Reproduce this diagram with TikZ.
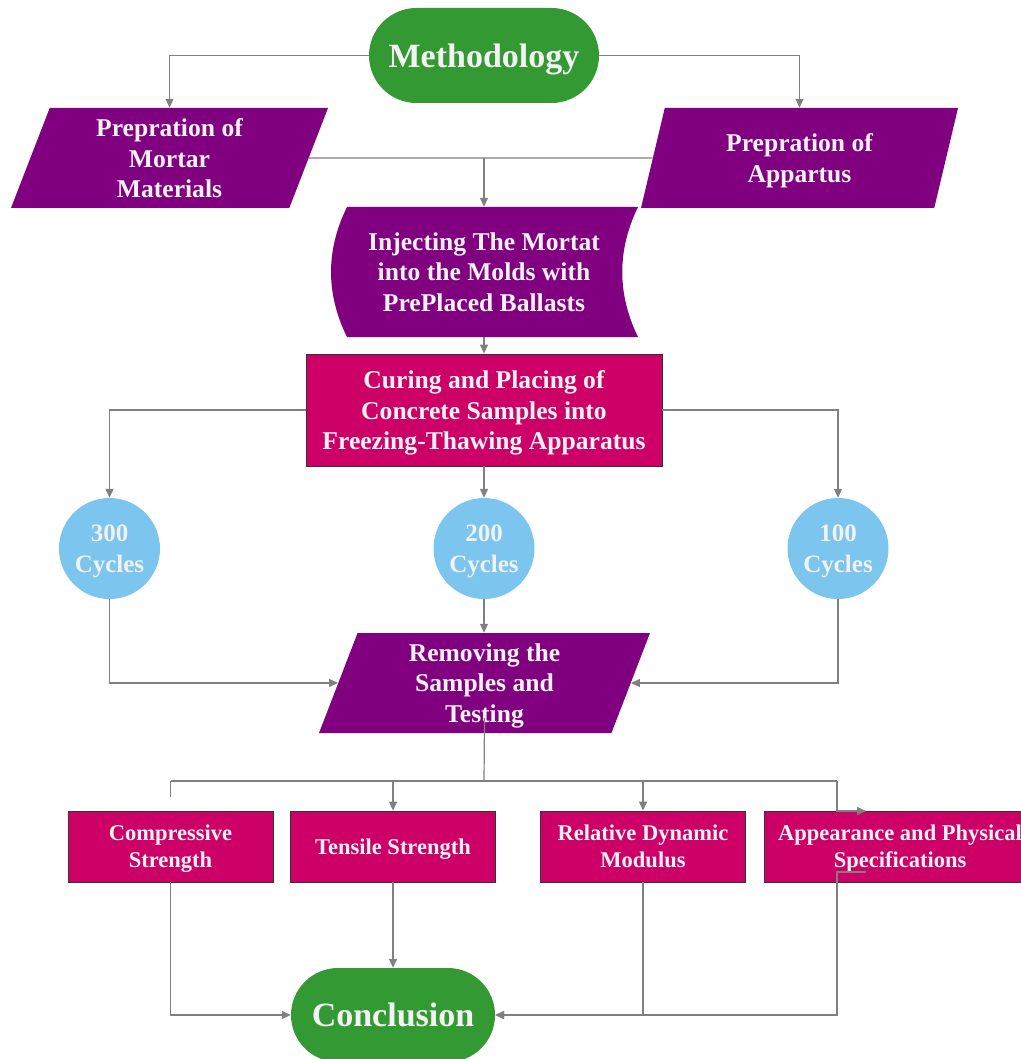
\documentclass[tikz,border=0pt]{standalone}
\usepackage{fontspec}
\setmainfont{Liberation Serif}
\usetikzlibrary{shapes.geometric, shapes.misc, arrows.meta, positioning}

\definecolor{termgreen}{HTML}{339933}
\definecolor{iopurple}{HTML}{800080}
\definecolor{procpink}{HTML}{CC0066}
\definecolor{cycleblue}{HTML}{7CC5EF}
\definecolor{linegray}{HTML}{808080}
\definecolor{labelwhite}{HTML}{F2F2F2}

\tikzset{
  blockbase/.style={text=labelwhite, align=center, inner sep=0pt, text depth=0pt,
    font=\bfseries\fontsize{25.6}{30.5}\selectfont},
  terminal/.style={blockbase, rounded rectangle, fill=termgreen,
    minimum width=230, minimum height=95, font=\bfseries\fontsize{34}{40}\selectfont},
  inout/.style={blockbase, trapezium, trapezium left angle=63.9, trapezium right angle=116.1,
    trapezium stretches body, minimum width=317, minimum height=100, fill=iopurple},
  process/.style={blockbase, rectangle, fill=procpink, draw=black!80, line width=0.8pt,
    minimum width=356, minimum height=112},
  testbox/.style={process, minimum width=205, minimum height=71,
    font=\bfseries\fontsize{22.5}{27}\selectfont},
  cyclenode/.style={blockbase, circle, fill=cycleblue, minimum size=101,
    font=\bfseries\fontsize{25}{31}\selectfont},
  link/.style={draw=linegray, line width=1.2pt},
  flow/.style={link, -{Triangle[length=9pt,width=8pt]}}
}

\begin{document}
\begin{tikzpicture}[x=1pt, y=-1pt]
  \useasboundingbox (0,0) rectangle (1020,1059);

  % start and preparation
  \node[terminal] (method) at (484,55.5) {Methodology};
  \node[inout] (mortar) at (169.5,158) {Prepration of\\Mortar\\Materials};
  \node[inout] (appar) at (799.5,158) {Prepration of\\Appartus};

  % stored data shape for the injection step
  \fill[iopurple] (347,207) -- (638,207) .. controls (617,250) and (617,294) .. (638,337)
    -- (347,337) .. controls (325.7,294) and (325.7,250) .. (347,207);
  \node[blockbase, minimum width=291, minimum height=130] (inject) at (484,272)
    {Injecting The Mortat\\into the Molds with\\PrePlaced Ballasts};

  \node[process] (cure) at (484,410) {Curing and Placing of\\Concrete Samples into\\Freezing-Thawing Apparatus};

  % cycles
  \node[cyclenode] (c300) at (109.5,548.5) {300\\Cycles};
  \node[cyclenode] (c200) at (484,548.5) {200\\Cycles};
  \node[cyclenode] (c100) at (838,548.5) {100\\Cycles};

  \node[inout, minimum width=331] (remove) at (484.5,683) {Removing the\\Samples and\\Testing};

  % tests
  \node[testbox] (comp) at (170.5,846.5) {Compressive\\Strength};
  \node[testbox] (tens) at (393,846.5) {Tensile Strength};
  \node[testbox] (rdm) at (643,846.5) {Relative Dynamic\\Modulus};
  \node[testbox, minimum width=272] (appear) at (900,846.5) {Appearance and Physical\\Specifications};

  \node[terminal, minimum width=204, minimum height=94] (concl) at (393,1015) {Conclusion};

  % connectors at the top
  \draw[flow] (method.west) -| (mortar.north);
  \draw[flow] (method.east) -| (appar.north);
  \draw[link] (mortar.east) -- (appar.west);
  \draw[flow] (mortar.east -| inject.north) -- (inject.north);
  \draw[flow] (inject.south) -- (cure.north);

  % to the cycles and back
  \draw[flow] (cure.west) -| (c300.north);
  \draw[flow] (cure.east) -| (c100.north);
  \draw[flow] (cure.south) -- (c200.north);
  \draw[flow] (c300.south) |- (remove.west);
  \draw[flow] (c100.south) |- (remove.east);
  \draw[flow] (c200.south) -- (c200.south |- remove.north);

  % branch to the tests
  \coordinate (split) at (484,781);
  \coordinate (rturn) at (837,781);
  \coordinate (aptip) at (866,811);
  \coordinate (apstart) at (866,872);
  \draw[link] ([yshift=15pt]remove.south) -- (split);
  \draw[link] (comp.north |- split) -- (rturn);
  \draw[link] (comp.north |- split) -- ([yshift=14pt]comp.north);
  \draw[flow] (tens.north |- split) -- (tens.north);
  \draw[flow] (rdm.north |- split) -- (rdm.north);
  \draw[flow] (rturn) |- (aptip);

  % into the conclusion
  \draw[flow] (comp.south) |- (concl.west);
  \draw[flow] (tens.south) -- (concl.north);
  \draw[flow] (rdm.south) |- (concl.east);
  \draw[flow] (apstart) -| (rturn |- concl.east) -- (concl.east);
\end{tikzpicture}
\end{document}
